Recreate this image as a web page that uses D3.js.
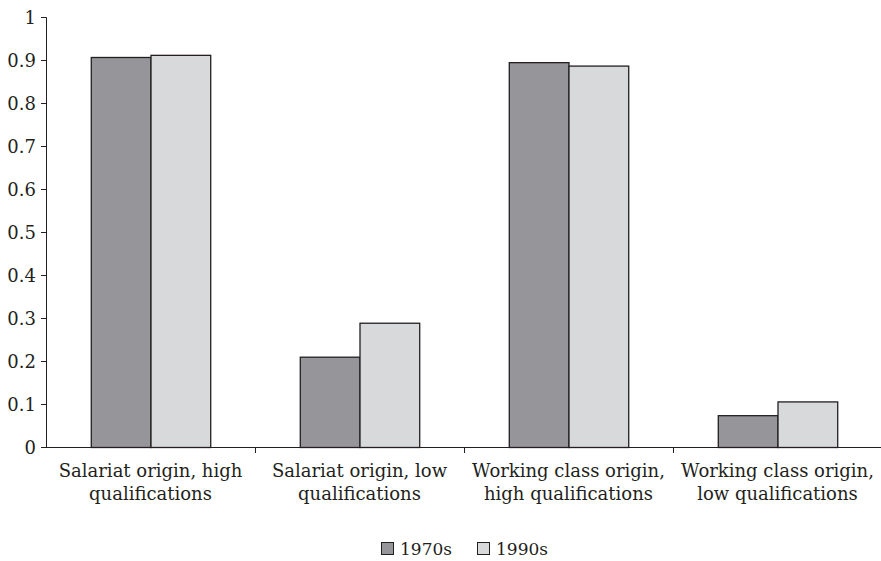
<!DOCTYPE html>
<html>
<head>
<meta charset="utf-8">
<script src="https://cdn.jsdelivr.net/npm/d3@7"></script>
<style>
  body { margin: 0; background: #fff; }
  text { font-family: "DejaVu Serif", serif; fill: #231f20; }
</style>
</head>
<body>
<div class="chart"></div>
<script>
// data
var categories = [
  ["Salariat origin, high", "qualifications"],
  ["Salariat origin, low", "qualifications"],
  ["Working class origin,", "high qualifications"],
  ["Working class origin,", "low qualifications"]
];
var seriesNames = ["1970s", "1990s"];
var values1970s = [0.907, 0.21, 0.895, 0.074];
var values1990s = [0.912, 0.289, 0.887, 0.106];
var yTicks = [0, 0.1, 0.2, 0.3, 0.4, 0.5, 0.6, 0.7, 0.8, 0.9, 1];

var colors = ["#969599", "#d8d9db"];
var ink = "#231f20";

var svgWidth = 881, svgHeight = 561;
var margin = { top: 17, left: 46, bottom: 114, right: -1 };
var chartWidth = svgWidth - margin.left - margin.right;
var chartHeight = svgHeight - margin.top - margin.bottom;

var svg = d3.select(".chart").append("svg")
  .attr("width", svgWidth)
  .attr("height", svgHeight);

var chartGroup = svg.append("g")
  .attr("transform", `translate(${margin.left}, ${margin.top})`);

var xScale = d3.scaleBand()
  .domain(d3.range(categories.length))
  .range([0, chartWidth]);

var xInner = d3.scaleBand()
  .domain(seriesNames)
  .range([0, xScale.bandwidth()])
  .paddingOuter(0.75)
  .paddingInner(0);

var yScale = d3.scaleLinear()
  .domain([0, 1])
  .range([chartHeight, 0]);

// y axis
var yAxis = d3.axisLeft(yScale)
  .tickValues(yTicks)
  .tickSize(5)
  .tickFormat(d => d === 0 ? "0" : d === 1 ? "1" : d3.format(".1f")(d));

var yG = chartGroup.append("g").call(yAxis);
yG.select(".domain").attr("stroke", ink).attr("d", `M-5,0.5H0.5V${chartHeight}`);
yG.selectAll(".tick line").attr("stroke", ink);
yG.selectAll(".tick text")
  .attr("x", -10)
  .attr("dy", "0.35em")
  .style("font-size", "18px")
  .style("font-family", '"DejaVu Serif", serif')
  .attr("fill", ink);

// bars
var rows = categories.map((c, i) => ({ i: i, vals: [values1970s[i], values1990s[i]] }));

var groups = chartGroup.selectAll(".grp")
  .data(rows)
  .enter()
  .append("g")
  .attr("transform", d => `translate(${xScale(d.i)},0)`);

groups.selectAll("rect")
  .data(d => d.vals.map((v, k) => ({ key: seriesNames[k], v: v, k: k })))
  .enter()
  .append("rect")
  .attr("x", d => xInner(d.key) + 0.5)
  .attr("y", d => yScale(d.v) + 0.5)
  .attr("width", xInner.bandwidth())
  .attr("height", d => chartHeight - yScale(d.v))
  .attr("fill", d => colors[d.k])
  .attr("stroke", ink)
  .attr("stroke-width", 1.3);

// x axis
var xG = chartGroup.append("g")
  .attr("transform", `translate(0, ${chartHeight})`);
xG.append("line")
  .attr("x1", 0).attr("x2", chartWidth)
  .attr("y1", 0.5).attr("y2", 0.5)
  .attr("stroke", ink);
xG.selectAll(".xtick")
  .data(d3.range(1, categories.length))
  .enter()
  .append("line")
  .attr("x1", d => xScale(d) + 0.5)
  .attr("x2", d => xScale(d) + 0.5)
  .attr("y1", 0).attr("y2", 6)
  .attr("stroke", ink);

var labels = xG.selectAll(".xlab")
  .data(categories)
  .enter()
  .append("text")
  .attr("text-anchor", "middle")
  .style("font-size", "18px")
  .attr("transform", (d, i) => `translate(${xScale(i) + xScale.bandwidth() / 2}, 30)`);

labels.selectAll("tspan")
  .data(d => d)
  .enter()
  .append("tspan")
  .attr("x", 0)
  .attr("y", (d, j) => j * 23)
  .text(d => d);

// legend
var legendX = [381, 477];
var legend = svg.selectAll(".legend")
  .data(seriesNames)
  .enter()
  .append("g")
  .attr("transform", (d, i) => `translate(${legendX[i]}, 542)`);

legend.append("rect")
  .attr("x", 0.5).attr("y", 0.5)
  .attr("width", 12).attr("height", 12)
  .attr("fill", (d, i) => colors[i])
  .attr("stroke", ink);

legend.append("text")
  .attr("x", 19)
  .attr("y", 13)
  .style("font-size", "17px")
  .text(d => d);
</script>
</body>
</html>
